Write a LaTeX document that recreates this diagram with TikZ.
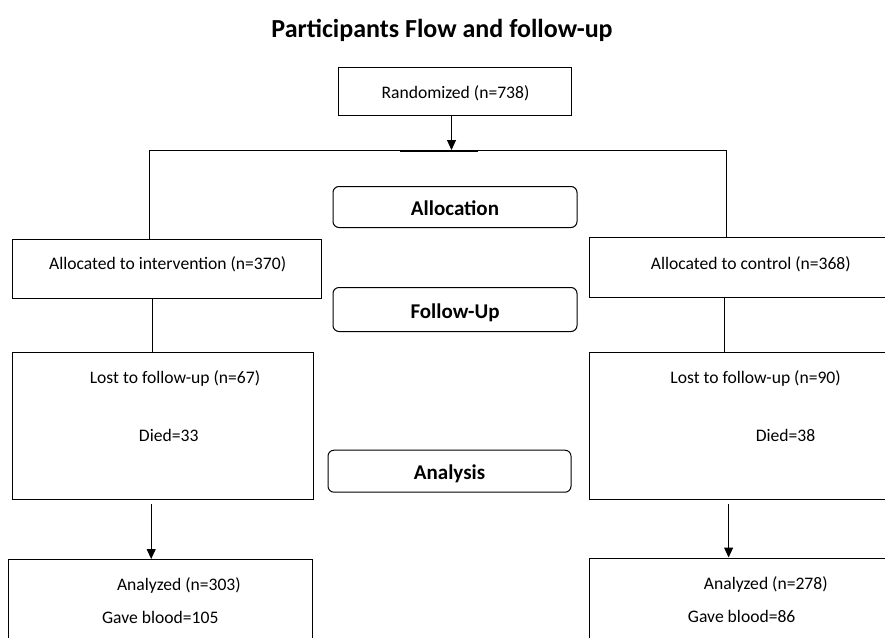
\documentclass[tikz,border=0pt]{standalone}
\usepackage{fontspec}
\setmainfont{Carlito}
\usetikzlibrary{arrows.meta}

\begin{document}
\begin{tikzpicture}[x=1pt,y=-1pt,
    box/.style={draw,line width=1pt,inner sep=0pt},
    stage/.style={draw,line width=1pt,rounded corners=6pt,inner sep=0pt,text height=17.5pt,text depth=0pt,font=\fontsize{21}{25}\selectfont\bfseries},
    txt/.style={inner sep=0pt,font=\fontsize{17.6}{21}\selectfont},
    arr/.style={line width=1pt,-{Triangle[length=10pt,width=9pt]}}]
    \useasboundingbox[fill=white] (0,0) rectangle (885,637);
    \clip (0,0) rectangle (885,637);% right boxes run off the page
    \node[font=\fontsize{26}{31}\selectfont\bfseries] (title) at (442,30.5) {Participants Flow and follow-up};
    % boxes
    \node[box,minimum width=233pt,minimum height=48pt] (rand) at (455,91) {};
    \node[box,minimum width=309pt,minimum height=59pt] (alloci) at (167,268.5) {};
    \node[box,minimum width=324pt,minimum height=60pt] (allocc) at (751,267.7) {};
    \node[box,minimum width=301pt,minimum height=147pt] (losti) at (162.7,425.7) {};
    \node[box,minimum width=324pt,minimum height=147pt] (lostc) at (751,425.7) {};
    \node[box,minimum width=304pt,minimum height=141pt] (anai) at (160.8,630) {};
    \node[box,minimum width=324pt,minimum height=144pt] (anac) at (751,630) {};
    % stages
    \node[stage,minimum width=244pt,minimum height=41pt] (alloc) at (455,207) {Allocation};
    \node[stage,minimum width=244pt,minimum height=44pt] (follow) at (455,309.5) {Follow-Up};
    \node[stage,minimum width=243pt,minimum height=42pt] (analysis) at (449.5,471.2) {Analysis};
    % texts
    \node[txt] (t-rand) at (455.5,93) {Randomized (n=738)};
    \node[txt] (t-alloci) at (167.6,264) {Allocated to intervention (n=370)};
    \node[txt] (t-allocc) at (750.8,264) {Allocated to control (n=368)};
    \node[txt] (t-losti) at (175,378) {Lost to follow-up (n=67)};
    \node[txt] (t-diedi) at (168.7,435) {Died=33};
    \node[txt] (t-lostc) at (755.6,378) {Lost to follow-up (n=90)};
    \node[txt] (t-diedc) at (785.5,435) {Died=38};
    \node[txt] (t-anai) at (178.9,585) {Analyzed (n=303)};
    \node[txt] (t-bloodi) at (160.3,617) {Gave blood=105};
    \node[txt] (t-anac) at (765.8,584) {Analyzed (n=278)};
    \node[txt] (t-bloodc) at (741.7,616) {Gave blood=86};
    % split
    \coordinate (split) at (451.5,150);
    \coordinate (bl) at (149.5,150);
    \coordinate (br) at (726,150);
    \draw[arr] (rand.south -| split) -- (split);
    \draw[line width=1pt] (alloci.north -| bl) -- (bl) -- (br) -- (allocc.north -| br);
    \draw[line width=2.5pt] ([xshift=-52pt,yshift=-1pt]split) -- ([xshift=26pt,yshift=-1pt]split);
    % follow-up lines
    \coordinate (li) at (152.4,0);
    \coordinate (lc) at (724.6,0);
    \draw[line width=1pt] (alloci.south -| li) -- (losti.north -| li);
    \draw[line width=1pt] (allocc.south -| lc) -- (lostc.north -| lc);
    % analysis arrows
    \coordinate (ai) at (151.2,504);
    \coordinate (ac) at (728.6,504);
    \draw[arr] (ai) -- (anai.north -| ai);
    \draw[arr] (ac) -- (anac.north -| ac);
\end{tikzpicture}
\end{document}
